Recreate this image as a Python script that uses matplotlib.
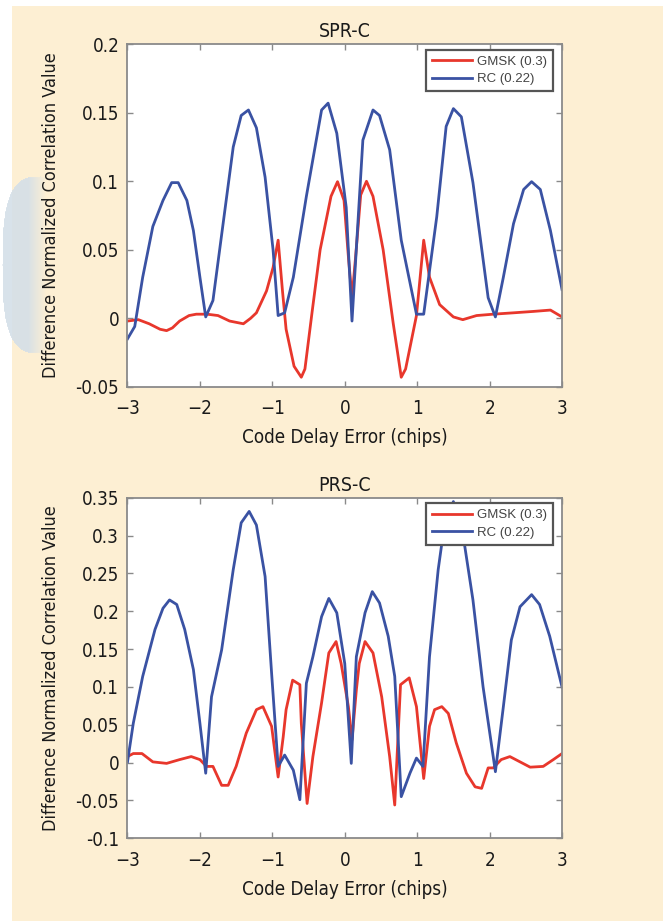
import numpy as np
import matplotlib
matplotlib.use('Agg')
import matplotlib.pyplot as plt
from matplotlib.patches import Rectangle

plt.rcParams['font.family'] = ['DejaVu Sans']
plt.rcParams['font.stretch'] = 'condensed'

# SPR-C data (code delay error in chips, difference value)
spr_rc_x = [-3.0, -2.90, -2.79, -2.65, -2.51, -2.39, -2.30, -2.18, -2.09, -2.0, -1.92, -1.82, -1.68,
            -1.54, -1.43, -1.33, -1.22, -1.10, -0.99, -0.92, -0.83, -0.71, -0.53, -0.32, -0.23, -0.11,
            0.02, 0.10, 0.25, 0.39, 0.48, 0.62, 0.78, 0.99, 1.09, 1.27, 1.40, 1.50, 1.61, 1.77, 1.98,
            2.08, 2.19, 2.33, 2.47, 2.58, 2.70, 2.84, 3.0]
spr_rc_y = [-0.015, -0.006, 0.030, 0.067, 0.086, 0.099, 0.099, 0.086, 0.064, 0.030, 0.001, 0.013, 0.069,
            0.125, 0.148, 0.152, 0.139, 0.103, 0.050, 0.002, 0.004, 0.030, 0.089, 0.152, 0.157, 0.135,
            0.081, -0.002, 0.130, 0.152, 0.148, 0.123, 0.057, 0.003, 0.003, 0.074, 0.140, 0.153, 0.147,
            0.099, 0.015, 0.001, 0.030, 0.069, 0.094, 0.0997, 0.094, 0.064, 0.021]

spr_gmsk_x = [-3.0, -2.85, -2.70, -2.55, -2.46, -2.38, -2.28, -2.15, -2.05, -1.90, -1.75, -1.59, -1.40,
              -1.30, -1.22, -1.08, -0.99, -0.92, -0.86, -0.81, -0.70, -0.60, -0.55, -0.45, -0.34, -0.19,
              -0.10, -0.01, 0.05, 0.10, 0.15, 0.22, 0.30, 0.39, 0.53, 0.67, 0.78, 0.84, 0.99, 1.09, 1.17,
              1.31, 1.50, 1.63, 1.82, 2.05, 2.33, 2.60, 2.84, 3.0]
spr_gmsk_y = [-0.002, -0.001, -0.004, -0.008, -0.009, -0.007, -0.002, 0.002, 0.003, 0.003, 0.002, -0.002,
              -0.004, 0.000, 0.004, 0.020, 0.037, 0.057, 0.020, -0.008, -0.035, -0.043, -0.037, 0.005,
              0.050, 0.089, 0.0997, 0.086, 0.045, 0.015, 0.045, 0.090, 0.100, 0.089, 0.050, -0.004,
              -0.043, -0.037, 0.002, 0.057, 0.030, 0.010, 0.001, -0.001, 0.002, 0.003, 0.004, 0.005,
              0.006, 0.001]

# PRS-C data
prs_rc_x = [-3.0, -2.92, -2.79, -2.62, -2.51, -2.42, -2.32, -2.21, -2.09, -2.0, -1.92, -1.84, -1.70,
            -1.54, -1.43, -1.32, -1.22, -1.10, -1.01, -0.92, -0.83, -0.71, -0.62, -0.53, -0.44, -0.32,
            -0.22, -0.11, 0.0, 0.09, 0.16, 0.28, 0.38, 0.48, 0.60, 0.69, 0.78, 0.90, 0.99, 1.08, 1.17,
            1.29, 1.38, 1.50, 1.63, 1.77, 1.91, 2.08, 2.19, 2.30, 2.42, 2.58, 2.69, 2.83, 3.0]
prs_rc_y = [0.001, 0.052, 0.114, 0.176, 0.204, 0.215, 0.209, 0.176, 0.123, 0.052, -0.014, 0.087, 0.149,
            0.255, 0.317, 0.332, 0.314, 0.246, 0.118, -0.005, 0.010, -0.010, -0.049, 0.105, 0.140,
            0.193, 0.217, 0.198, 0.131, -0.001, 0.140, 0.198, 0.226, 0.211, 0.167, 0.114, -0.045,
            -0.014, 0.006, -0.005, 0.140, 0.255, 0.317, 0.345, 0.303, 0.215, 0.100, -0.012, 0.074,
            0.162, 0.206, 0.222, 0.209, 0.167, 0.100]

prs_gmsk_x = [-3.0, -2.92, -2.80, -2.65, -2.46, -2.28, -2.12, -2.0, -1.91, -1.82, -1.70, -1.61, -1.50,
              -1.36, -1.22, -1.13, -1.01, -0.92, -0.85, -0.81, -0.72, -0.62, -0.60, -0.52, -0.44, -0.32,
              -0.22, -0.12, -0.05, 0.05, 0.10, 0.16, 0.20, 0.28, 0.39, 0.51, 0.62, 0.69, 0.77, 0.89,
              0.99, 1.04, 1.09, 1.17, 1.24, 1.34, 1.43, 1.54, 1.68, 1.80, 1.89, 1.98, 2.05, 2.16, 2.28,
              2.42, 2.56, 2.74, 2.88, 3.0]
prs_gmsk_y = [0.008, 0.012, 0.012, 0.001, -0.001, 0.004, 0.008, 0.004, -0.005, -0.005, -0.030, -0.030,
              -0.005, 0.039, 0.070, 0.074, 0.048, -0.019, 0.034, 0.070, 0.109, 0.103, 0.052, -0.054,
              0.008, 0.079, 0.145, 0.160, 0.131, 0.074, 0.030, 0.096, 0.131, 0.160, 0.145, 0.087, 0.008,
              -0.056, 0.103, 0.112, 0.074, 0.026, -0.021, 0.048, 0.070, 0.074, 0.065, 0.026, -0.014,
              -0.032, -0.034, -0.007, -0.007, 0.004, 0.008, 0.001, -0.006, -0.005, 0.004, 0.012]

labels = ['GMSK (0.3)', 'RC (0.22)']
red = '#e8372c'
blue = '#3a52a3'
W, H = 663, 921

fig = plt.figure(figsize=(W / 100, H / 100), dpi=100, facecolor='white')

# page background: beige panel and a soft blue blob on the left edge
bg = fig.add_axes([0, 0, 1, 1], zorder=-10)
bg.set_xlim(0, W)
bg.set_ylim(H, 0)
bg.axis('off')
bg.add_patch(Rectangle((12, 6), W - 12, H - 6, color='#fdefd3', lw=0, zorder=1))
yy, xx = np.mgrid[160:370, 0:60]
inside = (np.abs(xx - 40) / 38.0) ** 3 + (np.abs(yy - 265) / 88.0) ** 3 <= 1
alpha = 0.9 * np.clip((46 - xx) / 18.0, 0, 1) * inside
img = np.zeros(xx.shape + (4,))
img[..., 0] = 0.835
img[..., 1] = 0.875
img[..., 2] = 0.91
img[..., 3] = alpha
bg.imshow(img, extent=(0, 60, 370, 160), interpolation='bilinear', aspect='auto', zorder=2)


def style(ax, title, ylim, yticks):
    ax.set_facecolor('white')
    ax.set_xlim(-3, 3)
    ax.set_ylim(*ylim)
    ax.set_xticks(range(-3, 4))
    ax.set_yticks(yticks)
    ax.set_yticklabels(['%g' % t for t in yticks])
    ax.tick_params(direction='in', top=True, right=True, length=4, width=1, color='#8a8a8a',
                   labelsize=13.5, labelcolor='#1a1a1a', pad=6)
    ax.tick_params(axis='x', pad=9)
    for s in ax.spines.values():
        s.set_color('#8a8a8a')
        s.set_linewidth(1.3)
    ax.set_title(title, fontsize=14, color='#1a1a1a', pad=5)
    ax.set_xlabel('Code Delay Error (chips)', fontsize=13.5, color='#1a1a1a', labelpad=7)
    ax.set_ylabel('Difference Normalized Correlation Value', fontsize=13, color='#1a1a1a', labelpad=11)


ax1 = fig.add_axes([0.1923, 0.580, 0.6554, 0.372])
ax1.plot(spr_gmsk_x, spr_gmsk_y, color=red, lw=2.0, label=labels[0])
ax1.plot(spr_rc_x, spr_rc_y, color=blue, lw=2.0, label=labels[1])
style(ax1, 'SPR-C', (-0.05, 0.2), [-0.05, 0, 0.05, 0.1, 0.15, 0.2])

ax2 = fig.add_axes([0.1923, 0.0898, 0.6554, 0.3697])
ax2.plot(prs_gmsk_x, prs_gmsk_y, color=red, lw=2.0, label=labels[0])
ax2.plot(prs_rc_x, prs_rc_y, color=blue, lw=2.0, label=labels[1])
style(ax2, 'PRS-C', (-0.1, 0.35), [-0.1, -0.05, 0, 0.05, 0.1, 0.15, 0.2, 0.25, 0.3, 0.35])

for ax in (ax1, ax2):
    leg = ax.legend(loc='upper right', bbox_to_anchor=(0.979, 0.984), borderaxespad=0,
                    fancybox=False, framealpha=1, edgecolor='#555555', handlelength=3.0,
                    handletextpad=0.4, borderpad=0.45, labelspacing=0.4,
                    prop={'family': ['Liberation Sans', 'DejaVu Sans'], 'stretch': 'normal',
                          'size': 9.5})
    leg.get_frame().set_linewidth(1.6)
    for t in leg.get_texts():
        t.set_color('#444444')

fig.savefig('out.png', dpi=100, facecolor='white')
